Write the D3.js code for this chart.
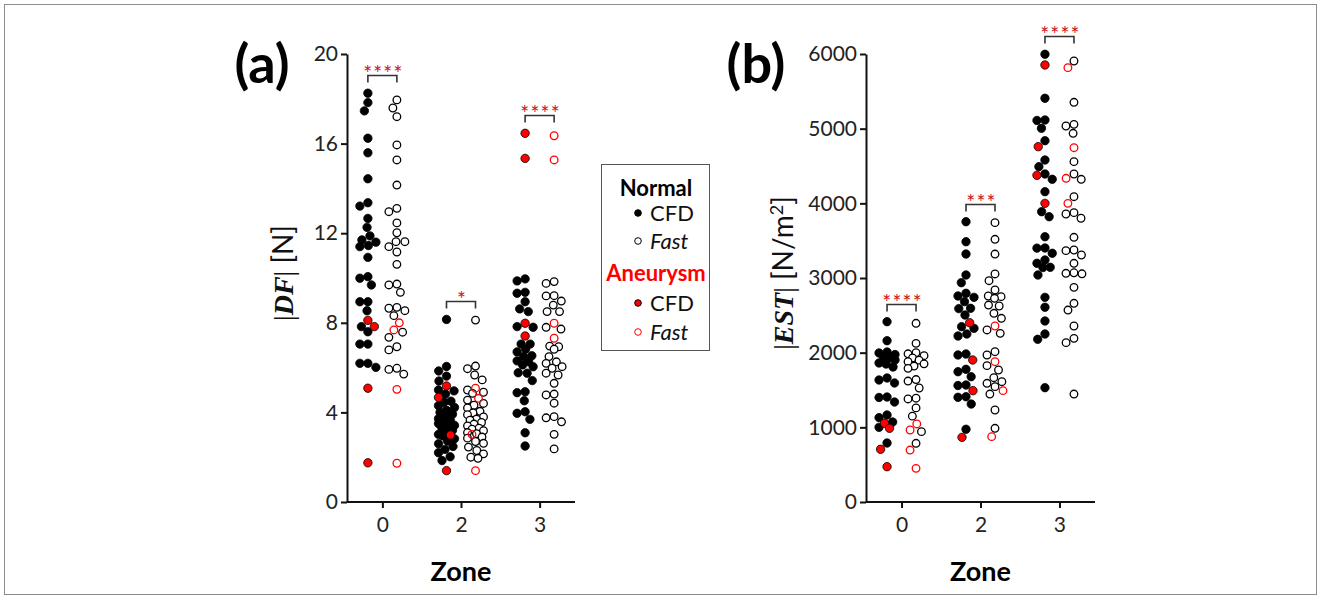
<!DOCTYPE html>
<html>
<head>
<meta charset="utf-8">
<script src="https://cdn.jsdelivr.net/npm/d3@7"></script>
<style>
body { margin: 0; background: #fff; }
text { font-family: Lato, "Open Sans", sans-serif; }
</style>
</head>
<body>
<svg id="chart" width="1322" height="599"></svg>
<script>
var zones = ["0", "2", "3"];

// panel (a): |DF| [N]
var dfTicks = [0, 4, 8, 12, 16, 20];
var dfStars = ["****", "*", "****"];
var dfZone0Cfd = [18.25, 17.83, 17.46, 16.24, 15.59, 14.43, 13.36, 13.21, 12.66, 12.26, 11.88, 11.70, 11.6, 11.45, 11.4, 10.92, 10.06, 9.99, 9.69, 8.94, 8.94, 8.54, 7.83, 7.60, 7.05, 7.05, 6.19, 6.19, 6.01];
var dfZone0CfdAneu = [8.11, 7.83, 5.08, 1.75];
var dfZone0Fast = [17.95, 17.59, 17.2, 15.94, 15.27, 14.15, 13.11, 12.96, 12.46, 12.02, 11.62, 11.62, 11.40, 11.16, 10.61, 9.73, 9.69, 9.36, 8.69, 8.65, 8.54, 8.32, 7.58, 7.35, 6.93, 6.79, 5.97, 5.92, 5.71];
var dfZone0FastAneu = [8.0, 7.68, 5.03, 1.73];
var dfZone2Cfd = [8.15, 6.05, 5.85, 5.62, 5.4, 5.0, 4.96, 4.82, 4.5, 4.45, 4.3, 4.22, 4.1, 4.0, 3.92, 3.82, 3.72, 3.62, 3.55, 3.5, 3.42, 3.35, 3.28, 3.2, 3.12, 3.02, 2.95, 2.82, 2.72, 2.6, 2.48, 2.35, 2.2, 2.02, 1.85];
var dfZone2CfdAneu = [5.18, 4.67, 2.99, 1.40];
var dfZone2Fast = [8.12, 6.07, 5.95, 5.67, 5.45, 5.0, 4.9, 4.85, 4.55, 4.4, 4.32, 4.2, 4.05, 3.98, 3.9, 3.8, 3.7, 3.65, 3.55, 3.48, 3.4, 3.3, 3.25, 3.18, 3.1, 3.05, 2.9, 2.85, 2.7, 2.62, 2.45, 2.3, 2.15, 2.0, 1.95];
var dfZone2FastAneu = [5.08, 4.63, 3.02, 1.40];
var dfZone3Cfd = [9.96, 9.87, 9.36, 9.32, 8.94, 8.62, 8.5, 7.83, 7.80, 7.05, 7.05, 6.82, 6.7, 6.53, 6.49, 6.3, 6.26, 6.12, 6.04, 5.77, 5.75, 5.42, 4.92, 4.88, 4.52, 4.03, 3.96, 3.69, 3.09, 2.5];
var dfZone3CfdAneu = [16.46, 15.34, 7.98, 7.41];
var dfZone3Fast = [9.84, 9.76, 9.21, 9.2, 8.97, 8.79, 8.5, 8.5, 7.80, 7.72, 6.96, 6.93, 6.82, 6.49, 6.26, 6.19, 6.04, 5.97, 5.75, 5.67, 5.30, 4.82, 4.78, 4.41, 3.81, 3.76, 3.58, 3.02, 2.37];
var dfZone3FastAneu = [16.35, 15.27, 7.98, 7.31];

// panel (b): |EST| [N/m2]
var estTicks = [0, 1000, 2000, 3000, 4000, 5000, 6000];
var estStars = ["****", "***", "****"];
var estZone0Cfd = [2415, 2160, 2009, 1996, 1975, 1942, 1929, 1902, 1862, 1848, 1808, 1661, 1634, 1594, 1406, 1400, 1339, 1165, 1130, 1071, 1000, 790];
var estZone0CfdAneu = [1054, 987, 706, 473];
var estZone0Fast = [2393, 2125, 2000, 1985, 1960, 1930, 1900, 1880, 1850, 1820, 1790, 1640, 1620, 1527, 1390, 1380, 1260, 1150, 942, 786];
var estZone0FastAneu = [1045, 964, 696, 451];
var estZone2Cfd = [3754, 3486, 3321, 3040, 2937, 2795, 2759, 2741, 2683, 2594, 2590, 2504, 2348, 2326, 2250, 2223, 1982, 1969, 1777, 1745, 1678, 1567, 1560, 1410, 1402, 1312, 974];
var estZone2CfdAneu = [2401, 1902, 1491, 866];
var estZone2Fast = [3741, 3518, 3321, 3054, 2964, 2839, 2759, 2750, 2728, 2638, 2625, 2527, 2460, 2304, 2259, 2013, 1969, 1826, 1768, 1665, 1611, 1590, 1545, 1446, 1232, 987];
var estZone2FastAneu = [2357, 1879, 1491, 875];
var estZone3Cfd = [5996, 5407, 5116, 5110, 5005, 4839, 4580, 4491, 4393, 4322, 4156, 3888, 3821, 3553, 3402, 3400, 3331, 3241, 3197, 3143, 3140, 3040, 2741, 2608, 2424, 2250, 2179, 1531];
var estZone3CfdAneu = [5853, 4759, 4375, 4000];
var estZone3Fast = [5906, 5353, 5058, 5036, 4938, 4558, 4393, 4322, 4089, 3875, 3857, 3800, 3545, 3375, 3366, 3308, 3197, 3070, 3063, 3056, 2875, 2661, 2571, 2357, 2192, 2134, 1446];
var estZone3FastAneu = [5817, 4745, 4335, 4000];

var starColor = "#c8161d";
var dotR = 4.2, gap = 9, maxDx = 8;
var plotTop = 54, plotBottom = 502;

var svg = d3.select("#chart");

svg.append("rect")
    .attr("x", 4.5).attr("y", 4.5)
    .attr("width", 1312).attr("height", 590)
    .attr("fill", "none").attr("stroke", "#8c8c8c").attr("stroke-width", 1);

// minimum distance from (x, y) to the points already placed
function minDist(placed, x, y) {
    var m = Infinity;
    placed.forEach(function(q) {
        var dx = q.dx - x, dy = q.py - y;
        m = Math.min(m, Math.sqrt(dx * dx + dy * dy));
    });
    return m;
}

// beeswarm kept inside +-maxDx; when the column is full the point goes where it overlaps least
function swarm(points, y) {
    points.forEach(function(p) { p.py = y(p.v); });
    points.sort(function(a, b) { return a.py - b.py; });
    var placed = [];
    points.forEach(function(p) {
        var cands = [0];
        placed.forEach(function(q) {
            var dy = Math.abs(q.py - p.py);
            if (dy < gap) {
                var dx = Math.sqrt(gap * gap - dy * dy);
                cands.push(q.dx - dx, q.dx + dx);
            }
        });
        cands = cands.filter(function(c) { return Math.abs(c) <= maxDx; });
        cands.sort(function(a, b) { return Math.abs(a) - Math.abs(b) || a - b; });
        p.dx = null;
        for (var i = 0; i < cands.length; i++) {
            if (minDist(placed, cands[i], p.py) >= gap - 0.01) { p.dx = cands[i]; break; }
        }
        if (p.dx === null) {
            var best = 0, bestD = -1;
            for (var c = -maxDx; c <= maxDx + 0.01; c += 0.5) {
                var d = minDist(placed, c, p.py);
                if (d > bestD + 0.01) { bestD = d; best = c; }
            }
            p.dx = best;
        }
        placed.push(p);
    });
    return points;
}

function makeGroup(normal, aneu) {
    return normal.map(function(v) { return { v: v, an: false }; })
        .concat(aneu.map(function(v) { return { v: v, an: true }; }));
}

var panels = [
    {
        tag: "(a)", tagX: 262, left: 347, right: 575,
        yMax: 20, ticks: dfTicks, stars: dfStars,
        cfd: [makeGroup(dfZone0Cfd, dfZone0CfdAneu), makeGroup(dfZone2Cfd, dfZone2CfdAneu), makeGroup(dfZone3Cfd, dfZone3CfdAneu)],
        fast: [makeGroup(dfZone0Fast, dfZone0FastAneu), makeGroup(dfZone2Fast, dfZone2FastAneu), makeGroup(dfZone3Fast, dfZone3FastAneu)],
        labelX: 293, label: "df"
    },
    {
        tag: "(b)", tagX: 756, left: 866, right: 1095,
        yMax: 6000, ticks: estTicks, stars: estStars,
        cfd: [makeGroup(estZone0Cfd, estZone0CfdAneu), makeGroup(estZone2Cfd, estZone2CfdAneu), makeGroup(estZone3Cfd, estZone3CfdAneu)],
        fast: [makeGroup(estZone0Fast, estZone0FastAneu), makeGroup(estZone2Fast, estZone2FastAneu), makeGroup(estZone3Fast, estZone3FastAneu)],
        labelX: 793, label: "est"
    }
];

panels.forEach(function(pn) {
    var y = d3.scaleLinear().domain([0, pn.yMax]).range([plotBottom, plotTop]);
    var x = d3.scalePoint().domain(zones).range([pn.left, pn.right]).padding(0.45);
    var off = 14.5;

    var g = svg.append("g");

    var yAxis = g.append("g")
        .attr("transform", "translate(" + pn.left + ",0)")
        .call(d3.axisLeft(y).tickValues(pn.ticks).tickSize(6).tickSizeOuter(0).tickPadding(3).tickFormat(d3.format("d")));
    var xAxis = g.append("g")
        .attr("transform", "translate(0," + plotBottom + ")")
        .call(d3.axisBottom(x).tickSize(6).tickSizeOuter(0).tickPadding(9));

    [yAxis, xAxis].forEach(function(ax) {
        ax.select(".domain").attr("stroke", "#111").attr("stroke-width", 2);
        ax.selectAll(".tick line").attr("stroke", "#111").attr("stroke-width", 2);
        ax.selectAll(".tick text").attr("font-size", 21).attr("fill", "#222")
            .style("font-family", "Lato, 'Open Sans', sans-serif");
    });
    // extend x axis line to the y axis
    xAxis.select(".domain").attr("d", "M" + pn.left + ",0H" + pn.right);

    zones.forEach(function(z, i) {
        var cols = [
            { pts: swarm(pn.cfd[i], y), cx: x(z) - off, filled: true },
            { pts: swarm(pn.fast[i], y), cx: x(z) + off, filled: false }
        ];
        cols.forEach(function(col) {
            var ordered = col.pts.filter(function(p) { return !p.an; })
                .concat(col.pts.filter(function(p) { return p.an; }));
            g.selectAll(null).data(ordered).enter().append("circle")
                .attr("cx", function(p) { return col.cx + p.dx; })
                .attr("cy", function(p) { return p.py; })
                .attr("r", col.filled ? dotR : dotR - 0.4)
                .attr("fill", function(p) { return col.filled ? (p.an ? "#ff0000" : "#000") : (p.an ? "none" : "#fff"); })
                .attr("stroke", function(p) { return col.filled ? "#000" : (p.an ? "#ff0000" : "#000"); })
                .attr("stroke-width", col.filled ? 0.8 : 1.3);
        });

        // significance bracket
        var maxV = d3.max(pn.cfd[i].concat(pn.fast[i]), function(p) { return p.v; });
        var by = Math.round(y(maxV) - 18) + 0.5;
        var x0 = x(z) - off, x1 = x(z) + off;
        g.append("path")
            .attr("d", "M" + x0 + "," + (by + 7) + "V" + by + "H" + x1 + "V" + (by + 7))
            .attr("fill", "none").attr("stroke", "#333").attr("stroke-width", 1.6);
        g.append("text")
            .attr("x", x(z) + 1).attr("y", by + 5)
            .attr("text-anchor", "middle")
            .attr("font-size", 21).attr("letter-spacing", 1.2)
            .attr("fill", starColor)
            .text(pn.stars[i]);
    });

    // panel tag
    g.append("text")
        .attr("x", pn.tagX).attr("y", 83)
        .attr("text-anchor", "middle")
        .attr("font-size", 54).attr("font-weight", 700)
        .attr("fill", "#000")
        .text(pn.tag);

    // x title
    g.append("text")
        .attr("x", x("2")).attr("y", 581)
        .attr("text-anchor", "middle")
        .attr("font-size", 27).attr("font-weight", 700)
        .text("Zone");

    // y title
    var yt = g.append("text")
        .attr("transform", "translate(" + pn.labelX + "," + 273 + ") rotate(-90)")
        .attr("text-anchor", "middle")
        .attr("font-size", 28).attr("fill", "#111");
    var serif = "'Liberation Serif', 'DejaVu Serif', serif";
    yt.append("tspan").style("font-family", serif).text("|");
    yt.append("tspan").style("font-family", serif).attr("font-weight", 700).attr("font-style", "italic")
        .text(pn.label === "df" ? "DF" : "EST");
    yt.append("tspan").style("font-family", serif).text("|");
    if (pn.label === "df") {
        yt.append("tspan").text(" [N]");
    } else {
        yt.append("tspan").text(" [N/m");
        yt.append("tspan").attr("font-size", 18).attr("dy", -10).text("2");
        yt.append("tspan").attr("dy", 10).text("]");
    }
});

// legend
var lg = svg.append("g");
lg.append("rect")
    .attr("x", 601.5).attr("y", 164.5).attr("width", 108).attr("height", 186)
    .attr("fill", "#fff").attr("stroke", "#555").attr("stroke-width", 1);

var legendHeads = [
    { text: "Normal", y: 196, color: "#000" },
    { text: "Aneurysm", y: 281, color: "#ff0000" }
];
lg.selectAll(null).data(legendHeads).enter().append("text")
    .attr("x", 656).attr("y", function(d) { return d.y; })
    .attr("text-anchor", "middle")
    .attr("font-size", 22).attr("font-weight", 700)
    .attr("fill", function(d) { return d.color; })
    .text(function(d) { return d.text; });

var legendItems = [
    { label: "CFD", y: 213, fill: "#000", stroke: "#000", italic: false },
    { label: "Fast", y: 241, fill: "#fff", stroke: "#000", italic: true },
    { label: "CFD", y: 303, fill: "#ff0000", stroke: "#000", italic: false },
    { label: "Fast", y: 332, fill: "#fff", stroke: "#ff0000", italic: true }
];
lg.selectAll(null).data(legendItems).enter().append("circle")
    .attr("cx", 638).attr("cy", function(d) { return d.y; })
    .attr("r", 3.3)
    .attr("fill", function(d) { return d.fill; })
    .attr("stroke", function(d) { return d.stroke; })
    .attr("stroke-width", 1);
lg.selectAll(null).data(legendItems).enter().append("text")
    .attr("x", 650).attr("y", function(d) { return d.y + 7.5; })
    .attr("font-size", 22)
    .attr("font-style", function(d) { return d.italic ? "italic" : "normal"; })
    .attr("fill", "#111")
    .text(function(d) { return d.label; });
</script>
</body>
</html>
